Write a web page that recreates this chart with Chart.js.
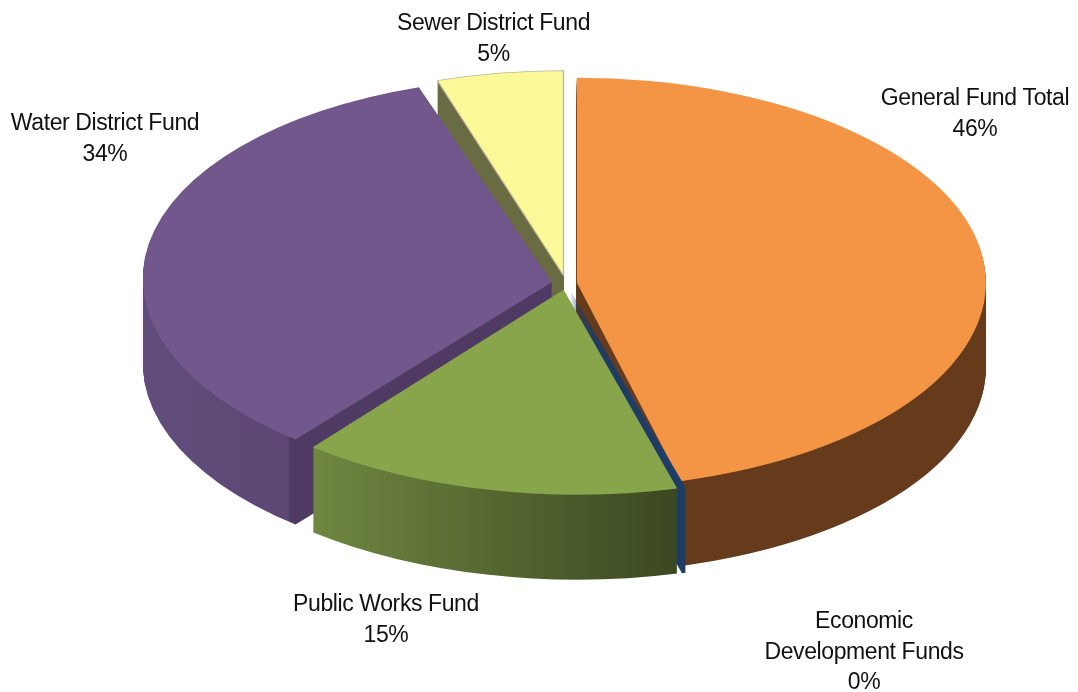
<!DOCTYPE html>
<html>
<head>
<meta charset="utf-8">
<title>Funds</title>
<script src="https://cdn.jsdelivr.net/npm/chart.js@4"></script>
<style>
  html, body { margin: 0; background: #fff; }
  canvas { display: block; }
</style>
</head>
<body>
<canvas id="fundsPie" width="1078" height="692"></canvas>
<script>
// Funds, in percent of the total
const funds = ["General Fund Total", ["Economic", "Development Funds"], "Public Works Fund", "Water District Fund", "Sewer District Fund"];
const shares = [46, 0.15, 15, 34, 5];

const topColors = ["#f49546", "#1f3f68", "#89a54c", "#71578b", "#fbf997"];
const topEdges = ["#f49546", "#1f3f68", "#89a54c", "#71578b", "#b9b89a"];
const edgeWidths = [0, 0, 0, 0, 1];
// explode distance along each slice's middle, in chart pixels; done here
// rather than with the arc offset option, which also grows the radius
const sliceShift = [8.6, 9.4, 10, 11.2, 12.5];
// slices lean a little to fake the perspective of the front edge
const sliceLean = [0, 0.065, 0.07, 0.035, 0];
// painted back to front
const paintOrder = [4, 3, 0, 1, 2];

// wall colours: [screen x, colour] stops
const wallStops = [
  [[600, "#653b1c"], [986, "#653b1c"]],
  [[660, "#1f3c64"], [690, "#1f3c64"]],
  [[309, "#6f8640"], [678, "#394520"]],
  [[143, "#614e7c"], [297, "#5d4774"], [298, "#4e3a63"], [560, "#4e3a63"]],
  [[430, "#6a6b42"], [565, "#6a6b42"]]
];

// where the pie sits on the page, and how flat it is
const pieX = 566, pieY = 283.5, pieRx = 409, pieRy = 205, pieDepth = 85;
const pieRadius = 320;

// label centres and first baseline
const labelSpots = [[975, 105], [864, 628], [386, 611], [105, 130], [493.5, 30]];
const lineGap = 30.5;

function applyTilt(ctx, arc, i) {
  const middle = (arc.startAngle + arc.endAngle) / 2;
  ctx.translate(pieX, pieY);
  ctx.transform(1, 0, sliceLean[i], 1, 0, 0);
  ctx.scale(pieRx / pieRadius, pieRy / pieRadius);
  ctx.translate(Math.cos(middle) * sliceShift[i] - arc.x, Math.sin(middle) * sliceShift[i] - arc.y);
}

function wallGradient(ctx, arc, stops) {
  const toChartX = (x) => arc.x + (x - pieX) * pieRadius / pieRx;
  const first = stops[0][0], last = stops[stops.length - 1][0];
  const grad = ctx.createLinearGradient(toChartX(first), 0, toChartX(last), 0);
  stops.forEach(([x, color]) => grad.addColorStop((x - first) / (last - first), color));
  return grad;
}

const tiltedPie = {
  id: "tiltedPie",
  beforeDatasetDraw(chart) {
    const ctx = chart.ctx;
    const arcs = chart.getDatasetMeta(0).data;

    paintOrder.forEach((i) => {
      const arc = arcs[i];
      const faceOptions = arc.options;
      const wall = wallGradient(ctx, arc, wallStops[i]);

      arc.options = { ...faceOptions, backgroundColor: wall, borderWidth: 0 };
      for (let d = pieDepth; d >= 1; d--) {
        ctx.save();
        ctx.translate(0, d);
        applyTilt(ctx, arc, i);
        arc.draw(ctx);
        ctx.restore();
      }
      arc.options = faceOptions;

      ctx.save();
      applyTilt(ctx, arc, i);
      arc.draw(ctx);
      ctx.restore();
    });
    return false;
  },
  afterDraw(chart) {
    const ctx = chart.ctx;
    const total = shares.reduce((a, b) => a + b, 0);

    ctx.save();
    ctx.fillStyle = "#111";
    ctx.font = '23px "Liberation Sans"';
    ctx.letterSpacing = "-0.4px";
    ctx.textAlign = "center";
    funds.forEach((name, i) => {
      const lines = [].concat(name, Math.round(shares[i] / total * 100) + "%");
      lines.forEach((line, n) => {
        ctx.fillText(line, labelSpots[i][0], labelSpots[i][1] + n * lineGap);
      });
    });
    ctx.restore();
  }
};

new Chart(document.getElementById("fundsPie"), {
  type: "pie",
  data: {
    labels: funds,
    datasets: [{
      data: shares,
      backgroundColor: topColors,
      borderColor: topEdges,
      borderWidth: edgeWidths
    }]
  },
  options: {
    responsive: false,
    animation: false,
    events: [],
    radius: pieRadius,
    plugins: { legend: { display: false }, tooltip: { enabled: false } }
  },
  plugins: [tiltedPie]
});
</script>
</body>
</html>
